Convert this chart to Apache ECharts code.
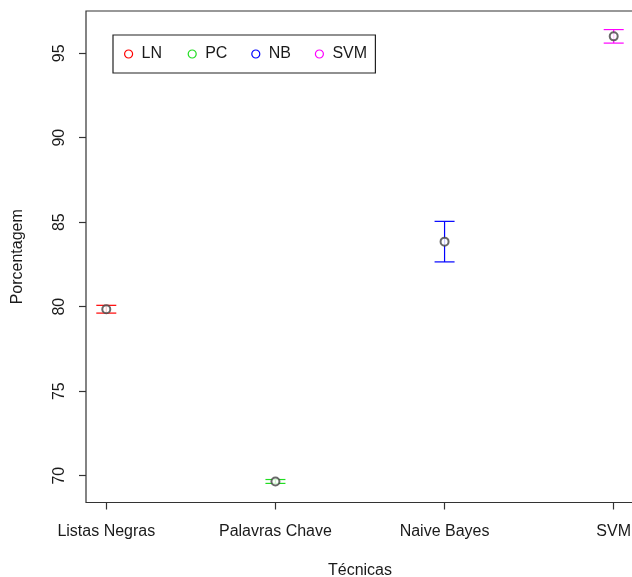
<!DOCTYPE html>
<html>
<head>
<meta charset="utf-8">
<script src="https://cdn.jsdelivr.net/npm/echarts@6/dist/echarts.min.js"></script>
<style>html,body{margin:0;padding:0;background:#fff}#c{width:632px;height:577px}</style>
</head>
<body>
<div id="c"></div>
<script>
const categories = ['Listas Negras', 'Palavras Chave', 'Naive Bayes', 'SVM'];
const seriesNames = ['LN', 'PC', 'NB', 'SVM'];
const means = [79.85, 69.65, 83.85, 96.0];
const lowers = [79.62, 69.54, 82.65, 95.6];
const uppers = [80.08, 69.77, 85.05, 96.4];
const colors = ['#FF0000', '#22DD22', '#0000FF', '#FF00FF'];
const yTicks = [70, 75, 80, 85, 90, 95];
const xTicks = [1, 2, 3, 4];

const font = 'Liberation Sans, Arial, Helvetica, sans-serif';
const txt = '#1a1a1a';

const series = [];
seriesNames.forEach((name, i) => {
  series.push({
    name: name,
    type: 'custom',
    renderItem: function (params, api) {
      const x = api.value(0);
      const top = api.coord([x, api.value(2)]);
      const bot = api.coord([x, api.value(1)]);
      const hw = 10;
      const style = { stroke: colors[i], lineWidth: 1.2 };
      return {
        type: 'group',
        children: [
          { type: 'line', shape: { x1: top[0], y1: top[1], x2: bot[0], y2: bot[1] }, style: style },
          { type: 'line', shape: { x1: top[0] - hw, y1: top[1], x2: top[0] + hw, y2: top[1] }, style: style },
          { type: 'line', shape: { x1: bot[0] - hw, y1: bot[1], x2: bot[0] + hw, y2: bot[1] }, style: style }
        ]
      };
    },
    data: [[xTicks[i], lowers[i], uppers[i]]],
    z: 2
  });
});
series.push({
  name: 'points',
  type: 'scatter',
  symbol: 'emptyCircle',
  symbolSize: 8,
  itemStyle: { color: '#444', borderWidth: 1.1 },
  data: means.map((m, i) => [xTicks[i], m]),
  z: 3,
  silent: true
});

const chart = echarts.init(document.getElementById('c'));
chart.setOption({
  animation: false,
  backgroundColor: '#fff',
  grid: { left: 86, top: 11, width: 548, height: 491.5, show: true, borderColor: '#333', borderWidth: 1.2,
    containLabel: false, outerBoundsMode: 'none' },
  legend: {
    left: 113, top: 35,
    orient: 'horizontal',
    borderColor: '#222', borderWidth: 1.2,
    padding: [11, 0, 11, 11],
    itemWidth: 8, itemHeight: 8, itemGap: 3,
    textStyle: { fontFamily: font, fontSize: 16, color: txt, width: 43, lineHeight: 16, padding: [0, 0, 0, 4] },
    data: seriesNames.map((n, i) => ({
      name: n, icon: 'circle',
      itemStyle: { color: 'rgba(0,0,0,0)', borderColor: colors[i], borderWidth: 1.2 }
    }))
  },
  xAxis: {
    type: 'value', min: 0.88, max: 4.12,
    name: 'Técnicas', nameLocation: 'middle', nameGap: 60,
    nameTextStyle: { fontFamily: font, fontSize: 16, color: txt },
    splitLine: { show: false },
    axisLine: { show: false },
    axisTick: { show: true, length: 7, lineStyle: { color: '#333', width: 1.2 }, customValues: xTicks },
    axisLabel: { fontFamily: font, fontSize: 16, color: txt, margin: 21, customValues: xTicks,
      formatter: v => categories[Math.round(v) - 1] || '' }
  },
  yAxis: {
    type: 'value', min: 68.41, max: 97.5,
    name: 'Porcentagem', nameLocation: 'middle', nameGap: 60,
    nameTextStyle: { fontFamily: font, fontSize: 16, color: txt },
    splitLine: { show: false },
    axisLine: { show: false },
    axisTick: { show: true, length: 7, lineStyle: { color: '#333', width: 1.2 }, customValues: yTicks },
    axisLabel: { fontFamily: font, fontSize: 16, color: txt, margin: 18, rotate: 90, customValues: yTicks }
  },
  series: series
});
</script>
</body>
</html>
